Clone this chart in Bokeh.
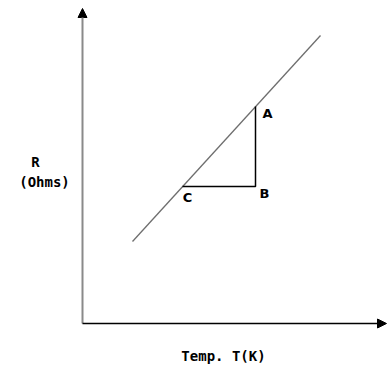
from bokeh.plotting import figure
from bokeh.models import Range1d, Arrow, NormalHead, ColumnDataSource
from bokeh.core.properties import value
from bokeh.embed import file_html
from bokeh.resources import INLINE

# Schematic data (arbitrary units, origin at the axes corner)
line_T = [50, 238]
line_R = [82, 288]
tri_T = [100, 173, 173]      # C -> B -> A
tri_R = [137, 137, 217]
point_labels = ["A", "B", "C"]
label_T = [185, 182, 105]
label_R = [210, 130, 126]
x_axis_end = 304
y_axis_end = 315
x_title = "Temp. T(K)"
y_title = ["R", "(Ohms)"]

p = figure(width=388, height=366, output_backend="svg", toolbar_location=None,
           x_range=Range1d(-82, 306), y_range=Range1d(-43, 323),
           min_border=0, outline_line_color=None)
p.axis.visible = False
p.grid.visible = False
p.background_fill_color = "white"
p.border_fill_color = "white"

# axes with arrows
p.add_layout(Arrow(x_start=0, y_start=0, x_end=0, y_end=y_axis_end,
                   line_color="#8a8a8a", line_width=2,
                   end=NormalHead(size=9, fill_color="black", line_color="black")))
p.add_layout(Arrow(x_start=0, y_start=0, x_end=x_axis_end, y_end=0,
                   line_color="black", line_width=1.5,
                   end=NormalHead(size=9, fill_color="black", line_color="black")))

# R vs T line
p.line(line_T, line_R, line_color="#6e6e6e", line_width=1.3)
# gradient triangle
p.line(tri_T, tri_R, line_color="black", line_width=1.5)

src = ColumnDataSource(dict(x=label_T, y=label_R, t=point_labels))
p.text(x="x", y="y", text="t", source=src, text_font=value("DejaVu Sans"),
       text_font_style="bold", text_font_size="13px",
       text_align="center", text_baseline="middle", text_color="black")

p.text(x=[-47, -38], y=[162, 142], text=y_title, text_font=value("DejaVu Sans Mono"),
       text_font_style="bold", text_font_size="14px",
       text_align="center", text_baseline="middle", text_color="black")
p.text(x=[141], y=[-32], text=[x_title], text_font=value("DejaVu Sans Mono"),
       text_font_style="bold", text_font_size="14px",
       text_align="center", text_baseline="middle", text_color="black")

open("out.html", "w").write(file_html(p, INLINE))
